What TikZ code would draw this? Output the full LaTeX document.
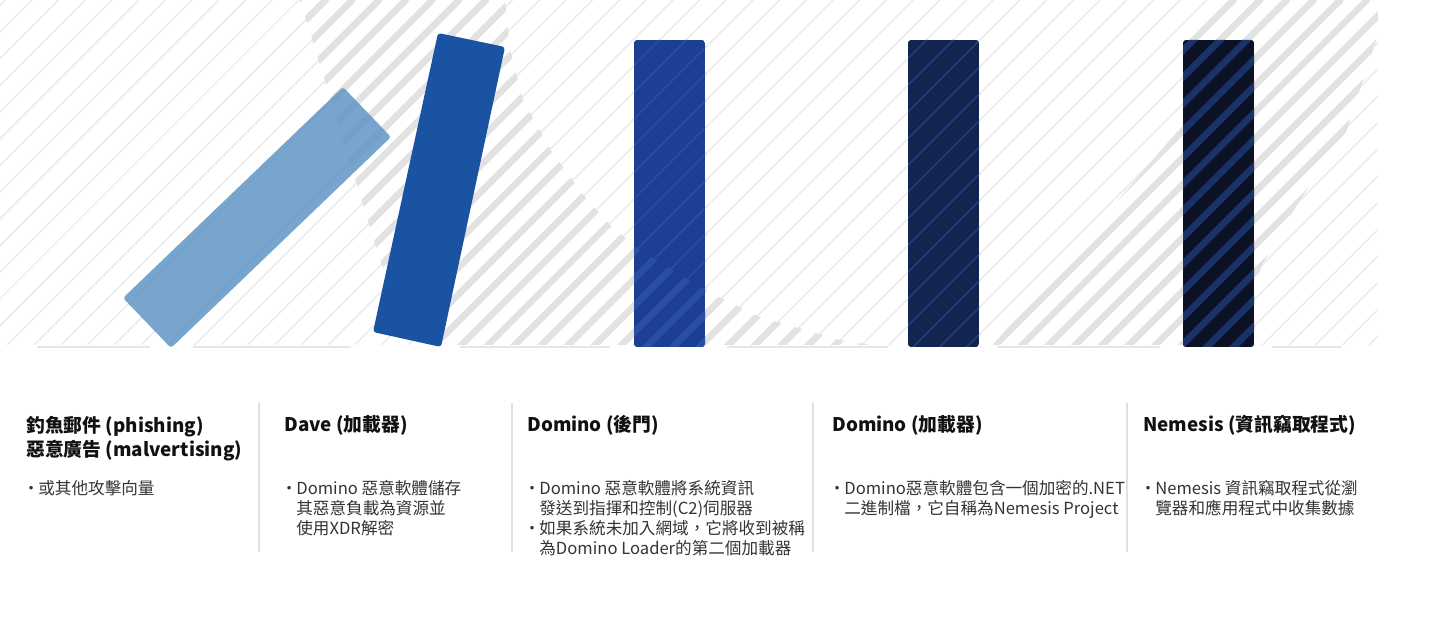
\documentclass[tikz,border=0pt]{standalone}
\usepackage{fontspec}
\setmainfont{Noto Sans CJK TC}
\definecolor{stripegray}{HTML}{EAEAEA}
\definecolor{shadegray}{HTML}{E2E2E2}
\definecolor{floorgray}{HTML}{E6E6E6}
\definecolor{sepgray}{HTML}{E0E0E0}
\definecolor{domA}{HTML}{6095C4}
\definecolor{domB}{HTML}{1A53A1}
\definecolor{domC}{HTML}{1C3F93}
\definecolor{domCline}{HTML}{2A4EA2}
\definecolor{domD}{HTML}{13254F}
\definecolor{domDline}{HTML}{223F88}
\definecolor{domE}{HTML}{0B1225}
\definecolor{domEline}{HTML}{1B3169}
\definecolor{headblack}{HTML}{111111}
\definecolor{bodygray}{HTML}{333333}

\newcommand{\hatchlines}[1]{%
  \foreach \k [evaluate=\k as \xs using 32+26.7*\k] in {-1,...,65}
    \draw[#1] (\xs-360,360) -- (\xs,0);}
\newcommand{\dotitem}{\makebox[0.24cm][l]{\hspace*{-0.07cm}•}}
\newcommand{\indt}{\hspace*{0.24cm}}
% shadow areas behind the falling pieces
\def\shadeA{(300,0) -- (380,260) -- (420,348) -- (890,348) -- (840,340) -- (760,317) -- (705,290) -- (640,250) -- (612,227) -- (585,197) -- (552,152) -- (523,100) -- (510,50) -- (505,0) -- cycle}
\def\shadeB{(990,348) -- (1183,125) -- (1183,39) -- (1220,0) -- (1378,0) -- (1378,35) -- (1345,135) -- (1300,200) -- (1262,265) -- (1254,290) -- (1254,348) -- cycle}

\tikzset{
  thinline/.style={line width=0.8pt},
  thickline/.style={line width=3.8pt, line cap=round},
  headtext/.style={anchor=base west, inner sep=0pt, align=left, text=headblack,
    font=\fontsize{10.7}{14.2}\selectfont\bfseries},
  bodytext/.style={anchor=base west, inner sep=0pt, align=left, text=bodygray,
    font=\fontsize{9.45}{11.4}\selectfont},
  sepline/.style={draw=sepgray, line width=0.9pt},
  floor/.style={draw=floorgray, line width=1.1pt}
}

\begin{document}
\begin{tikzpicture}[x=0.02cm, y=-0.02cm, line join=round]
\useasboundingbox (0,0) rectangle (1430,644);

% striped backdrop
\begin{scope}
  \clip (0,0) rectangle (1378,345);
  \hatchlines{thinline, stripegray}
\end{scope}
\begin{scope}
  \clip (0,0) rectangle (1378,345);
  \clip \shadeA;
  \hatchlines{thickline, shadegray}
\end{scope}
\begin{scope}
  \clip (0,0) rectangle (1378,345);
  \clip \shadeB;
  \hatchlines{thickline, shadegray}
\end{scope}

% floor
\draw[floor] (37,347) -- (150,347);
\draw[floor] (193,347) -- (351,347);
\draw[floor] (460,347) -- (610,347);
\draw[floor] (727,347) -- (888,347);
\draw[floor] (997,347) -- (1160,347);
\draw[floor] (1272,347) -- (1342,347);

% pieces
\fill[domA, fill opacity=0.85, rounded corners=1.7pt]
  (343,87) -- (391,137) -- (171,348) -- (123,298) -- cycle;
\fill[domB, rounded corners=1.7pt]
  (438,33) -- (505,47) -- (441,347) -- (373,332) -- cycle;
\begin{scope}
  \clip[rounded corners=1.7pt] (634,40) rectangle (705,347);
  \fill[domC] (634,40) rectangle (705,347);
  \hatchlines{thinline, domCline}
  \clip \shadeA;
  \hatchlines{thickline, domCline}
\end{scope}
\begin{scope}
  \clip[rounded corners=1.7pt] (908,40) rectangle (979,347);
  \fill[domD] (908,40) rectangle (979,347);
  \hatchlines{thinline, domDline}
\end{scope}
\begin{scope}
  \clip[rounded corners=1.7pt] (1183,40) rectangle (1254,347);
  \fill[domE] (1183,40) rectangle (1254,347);
  \hatchlines{thickline, domEline}
\end{scope}

% column rules
\draw[sepline] (259,403) -- (259,552);
\draw[sepline] (512,403) -- (512,552);
\draw[sepline] (813,403) -- (813,552);
\draw[sepline] (1127,403) -- (1127,552);

% captions (base = last line)
\node[headtext] (h1) at (26,457) {釣魚郵件 (phishing)\\惡意廣告 (malvertising)};
\node[bodytext] (b1) at (26,495) {\dotitem 或其他攻擊向量};
\node[headtext] (h2) at (284,432) {Dave (加載器)};
\node[bodytext] (b2) at (284,535) {\dotitem Domino 惡意軟體儲存\\\indt 其惡意負載為資源並\\\indt 使用XDR解密};
\node[headtext] (h3) at (527,432) {Domino (後門)};
\node[bodytext] (b3) at (527,555) {\dotitem Domino 惡意軟體將系統資訊\\\indt 發送到指揮和控制(C2)伺服器\\\dotitem 如果系統未加入網域，它將收到被稱\\\indt 為Domino Loader的第二個加載器};
\node[headtext] (h4) at (832,432) {Domino (加載器)};
\node[bodytext] (b4) at (832,515) {\dotitem Domino惡意軟體包含一個加密的.NET\\\indt 二進制檔，它自稱為Nemesis Project};
\node[headtext] (h5) at (1143,432) {Nemesis (資訊竊取程式)};
\node[bodytext] (b5) at (1143,515) {\dotitem Nemesis 資訊竊取程式從瀏\\\indt 覽器和應用程式中收集數據};
\end{tikzpicture}
\end{document}
